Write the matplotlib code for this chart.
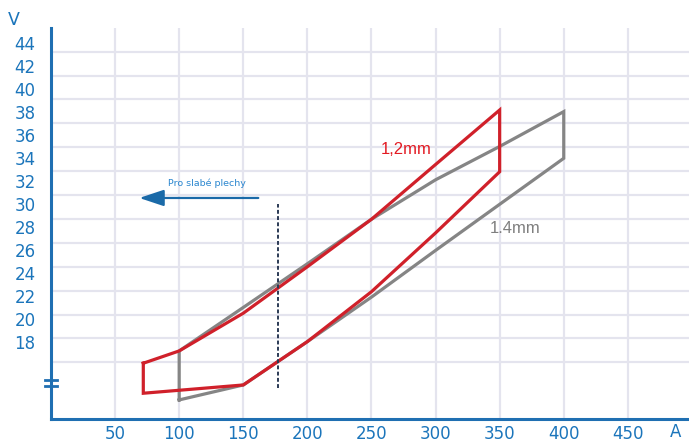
import matplotlib.pyplot as plt
import numpy as np

# 1,2mm loop (A, V)
red_x = [72, 100, 150, 200, 250, 300, 350, 350, 300, 250, 200, 150, 72, 72]
red_y = [16.15, 17.22, 20.5, 24.54, 28.67, 33.43, 38.17, 32.8, 27.48, 22.37, 18.03, 14.26, 13.54, 16.15]

# 1.4mm loop
gray_x = [100, 100, 150, 200, 250, 300, 350, 400, 400, 350, 300, 250, 200, 150, 100]
gray_y = [12.96, 17.22, 21.0, 24.8, 28.67, 32.1, 35.0, 38.03, 33.97, 29.97, 25.96, 21.9, 18.03, 14.26, 12.96]

x_ticks = [50, 100, 150, 200, 250, 300, 350, 400, 450]
y_ticks = [18, 20, 22, 24, 26, 28, 30, 32, 34, 36, 38, 40, 42, 44]

limit_x = 177
limit_y = [14.0, 30.0]

blue = '#1f6fb2'
lbl_blue = '#1b75bb'

fig = plt.figure(figsize=(6.89, 4.44), dpi=100)
ax = fig.add_axes([51 / 689, 1 - 419 / 444, 638 / 689, (419 - 28) / 444])
ax.set_xlim(0, 497.7)
ax.set_ylim(11.3, 45.3)

# grid
for xv in x_ticks:
    ax.axvline(xv, color='#e4e4ee', lw=1.6, zorder=0)
for yv in np.linspace(16.23, 43.24, 14):
    ax.axhline(yv, color='#e4e4ee', lw=1.6, zorder=0)

ax.plot(gray_x, gray_y, color='#858585', lw=2.3, solid_joinstyle='miter', zorder=2)
ax.plot(red_x, red_y, color='#d0202a', lw=2.3, solid_joinstyle='miter', zorder=3)

ax.plot([limit_x, limit_x], limit_y, color='#2b3a55', lw=1.4, ls=(0, (2, 1.2)), zorder=4)

ax.annotate('', xy=(68.9, 30.52), xytext=(161.7, 30.52),
            arrowprops=dict(arrowstyle='-|>,head_length=1.5,head_width=0.5',
                            color='#1a6aa8', lw=1.6, shrinkA=0, shrinkB=0))
ax.text(121.4, 31.8, 'Pro slabé plechy', color='#2a86cf', fontsize=6.8,
        ha='center', va='center')

ax.text(406 / 1.282 - 51 / 1.282, 44 - (150 - 43) / 11.5, '1,2mm', color='#e31b23',
        fontsize=12, ha='center', va='center', family='Liberation Sans')
ax.text(515 / 1.282 - 51 / 1.282, 44 - (229 - 43) / 11.5, '1.4mm', color='#7f7f7f',
        fontsize=12, ha='center', va='center', family='Liberation Sans')

for s in ['top', 'right']:
    ax.spines[s].set_visible(False)
for s in ['left', 'bottom']:
    ax.spines[s].set_color(blue)
    ax.spines[s].set_linewidth(2.2)

ax.set_xticks(x_ticks)
ax.set_yticks(y_ticks)
ax.tick_params(axis='x', length=0, pad=4, labelsize=12, labelcolor=lbl_blue)
ax.tick_params(axis='y', length=0, pad=11, labelsize=12, labelcolor=lbl_blue)

# axis break mark
tr = ax.get_yaxis_transform()
for yb in [14.7, 14.17]:
    ax.plot([-0.0095, 0.0095], [yb, yb], color=blue, lw=2, transform=tr, clip_on=False, zorder=5)

fig.text(14 / 689, 1 - 20 / 444, 'V', color=lbl_blue, fontsize=12.5, ha='center', va='center')
fig.text(676 / 689, 1 - 432 / 444, 'A', color=lbl_blue, fontsize=12, ha='center', va='center')

fig.savefig('out.png', dpi=100)
